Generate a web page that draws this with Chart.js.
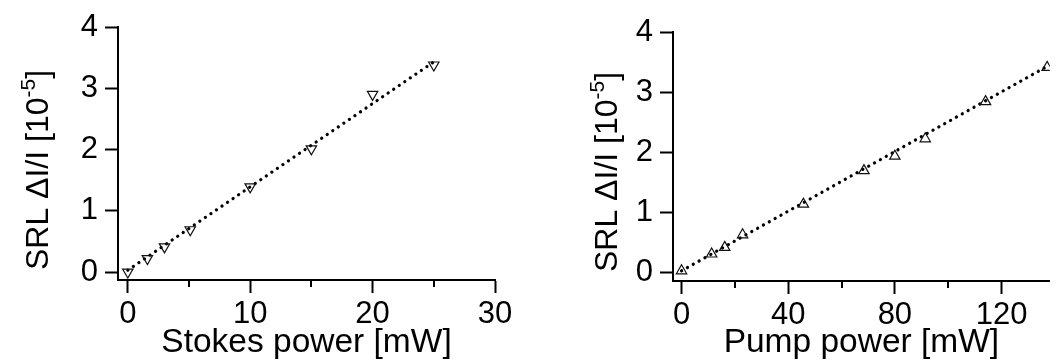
<!DOCTYPE html>
<html>
<head>
<meta charset="utf-8">
<script src="https://cdn.jsdelivr.net/npm/chart.js@4.4.1/dist/chart.umd.min.js"></script>
<style>
  html, body { margin: 0; padding: 0; background: #fff; }
  #wrap { position: relative; width: 1057px; height: 360px; }
  .box { position: absolute; top: 0; height: 360px; }
</style>
</head>
<body>
<div id="wrap">
  <div class="box" style="left:0;width:530px"><canvas id="stokesChart"></canvas></div>
  <div class="box" style="left:530px;width:527px"><canvas id="pumpChart"></canvas></div>
</div>
<script>
// Stokes power scan
var stokesPower = [0, 1.6, 3, 5.1, 10, 15, 20, 25];
var stokesSRL = [0, 0.22, 0.41, 0.69, 1.39, 2.01, 2.90, 3.38];
var stokesFitX = [0, 25];
var stokesFitY = [0.03, 3.43];
var stokesTicks = [0, 10, 20, 30];
var stokesMinor = [5, 15, 25];

// Pump power scan
var pumpPower = [0, 11.3, 16.2, 22.9, 45.7, 68.4, 80, 91.4, 114, 137.1];
var pumpSRL = [0.02, 0.30, 0.41, 0.62, 1.13, 1.69, 1.93, 2.22, 2.84, 3.41];
var pumpFitX = [0, 138];
var pumpFitY = [0.02, 3.45];
var pumpTicks = [0, 40, 80, 120];
var pumpMinor = [20, 60, 100];

var srlTicks = [0, 1, 2, 3, 4];

var FONT = '"Liberation Sans", Arial, sans-serif';

function pairs(xs, ys) {
    return xs.map(function (x, i) { return { x: x, y: ys[i] }; });
}

// rotated y title with a real superscript
var srlTitle = {
    id: 'srlTitle',
    afterDraw: function (chart, args, opts) {
        var ctx = chart.ctx;
        var big = '32px ' + FONT, small = '21px ' + FONT;
        var main = 'SRL \u0394I/I [10', sup = '-5', end = ']';
        ctx.save();
        ctx.font = big;
        var w1 = ctx.measureText(main).width;
        var w3 = ctx.measureText(end).width;
        ctx.font = small;
        var w2 = ctx.measureText(sup).width;
        var x0 = -(w1 + w2 + w3) / 2;
        ctx.translate(opts.x, opts.y);
        ctx.rotate(-Math.PI / 2);
        ctx.fillStyle = '#000';
        ctx.textBaseline = 'alphabetic';
        ctx.font = big;
        ctx.fillText(main, x0, 0);
        ctx.font = small;
        ctx.fillText(sup, x0 + w1, -13);
        ctx.font = big;
        ctx.fillText(end, x0 + w1 + w2, 0);
        ctx.restore();
    }
};

// short unlabeled ticks between the labeled ones
var minorTicks = {
    id: 'minorTicks',
    afterDraw: function (chart, args, opts) {
        var xs = chart.scales.x, ctx = chart.ctx;
        ctx.save();
        ctx.strokeStyle = '#000';
        ctx.lineWidth = 2;
        opts.values.forEach(function (v) {
            var px = Math.round(xs.getPixelForValue(v));
            ctx.beginPath();
            ctx.moveTo(px, xs.top);
            ctx.lineTo(px, xs.top + 7);
            ctx.stroke();
        });
        ctx.restore();
    }
};

function makeChart(id, c) {
    return new Chart(document.getElementById(id).getContext('2d'), {
        type: 'scatter',
        data: {
            datasets: [{
                data: pairs(c.px, c.py),
                pointStyle: 'triangle',
                rotation: c.rot,
                pointRadius: 6,
                pointBorderWidth: 1.2,
                pointBorderColor: '#111',
                pointBackgroundColor: 'rgba(255,255,255,0)',
                order: 0
            }, {
                data: pairs(c.fx, c.fy),
                showLine: true,
                pointRadius: 0,
                borderColor: '#000',
                borderWidth: 3.2,
                borderDash: [0.1, 6.6],
                borderCapStyle: 'round',
                order: 1
            }]
        },
        options: {
            responsive: true,
            maintainAspectRatio: false,
            animation: false,
            layout: { padding: { top: c.top, right: c.right, left: 0, bottom: 0 } },
            plugins: {
                legend: { display: false },
                tooltip: { enabled: false },
                srlTitle: { x: c.titleX, y: c.titleY },
                minorTicks: { values: c.minor }
            },
            scales: {
                x: {
                    type: 'linear',
                    min: c.xmin,
                    max: c.xmax,
                    afterBuildTicks: function (s) { s.ticks = c.xticks.map(function (v) { return { value: v }; }); },
                    afterFit: function (s) { s.height = c.xh; },
                    ticks: { color: '#000', font: { family: FONT, size: 31 }, padding: 3, maxRotation: 0 },
                    grid: { drawOnChartArea: false, tickLength: 13, tickWidth: 2, tickColor: '#000' },
                    border: { color: '#000', width: 2 },
                    title: { display: true, text: c.xtitle, color: '#000', font: { family: FONT, size: 33.5, lineHeight: 1 }, padding: 0 }
                },
                y: {
                    min: c.ymin,
                    max: 4,
                    afterBuildTicks: function (s) { s.ticks = srlTicks.map(function (v) { return { value: v }; }); },
                    afterFit: function (s) { s.width = c.yw; },
                    ticks: { color: '#000', font: { family: FONT, size: 31 }, padding: 7 },
                    grid: { drawOnChartArea: false, tickLength: 13, tickWidth: 2, tickColor: '#000' },
                    border: { color: '#000', width: 2 }
                }
            }
        },
        plugins: [srlTitle, minorTicks]
    });
}

var stokesChart = makeChart('stokesChart', {
    px: stokesPower, py: stokesSRL, fx: stokesFitX, fy: stokesFitY, rot: 180,
    xticks: stokesTicks, minor: stokesMinor, xmin: -0.8, xmax: 30, ymin: -0.13,
    top: 27, right: 35, xh: 80, yw: 118, titleX: 48, titleY: 170,
    xtitle: 'Stokes power [mW]'
});

var pumpChart = makeChart('pumpChart', {
    px: pumpPower, py: pumpSRL, fx: pumpFitX, fy: pumpFitY, rot: 0,
    xticks: pumpTicks, minor: pumpMinor, xmin: -3.2, xmax: 138.1, ymin: -0.15,
    top: 32, right: 0, xh: 79, yw: 143, titleX: 87, titleY: 172,
    xtitle: 'Pump power [mW]'
});
</script>
</body>
</html>
